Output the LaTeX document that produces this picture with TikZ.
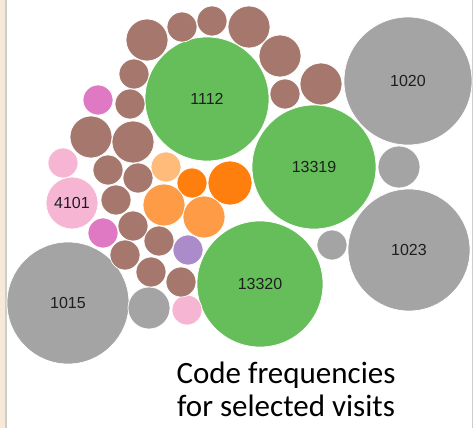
\documentclass[tikz,border=0pt]{standalone}
\usepackage{fontspec}
\setmainfont{Liberation Sans}
\newfontfamily\capfont{Carlito}
\usepackage{tikz,xcolor}
\usetikzlibrary{positioning}
\definecolor{ink}{HTML}{1E1E1E}
\definecolor{paper}{HTML}{F6E9D8}
\definecolor{frame}{HTML}{CDCDCD}
\definecolor{leaf}{HTML}{66BE5B}
\definecolor{stone}{HTML}{A4A4A4}
\definecolor{bark}{HTML}{A6776C}
\definecolor{blush}{HTML}{F6B5D3}
\definecolor{orchid}{HTML}{E079C4}
\definecolor{lilac}{HTML}{AB8BCA}
\definecolor{peach}{HTML}{FEBB7A}
\definecolor{amber}{HTML}{FD9B46}
\definecolor{flame}{HTML}{FF7F0E}

\begin{document}
\begin{tikzpicture}[x=1pt,y=-1pt,
  bubble/.style={circle,draw=white,line width=0.7pt,inner sep=0pt,text=ink,font=\fontsize{16}{16}\selectfont}]
\useasboundingbox (0,0) rectangle (475,428);
\fill[paper] (0,0) rectangle (5,428);
\draw[frame,line width=1.5pt] (6,0) -- (6,428);
\draw[frame,line width=1pt] (472.5,0) -- (472.5,428);
% labelled codes
\foreach \x/\y/\r/\c/\t in {207/99/62/leaf/1112,314/167/62/leaf/13319,260/284/63/leaf/13320,408/81/64/stone/1020,409/250/61/stone/1023,68/303/61/stone/1015,72/203/26/blush/4101}{
  \node[bubble,fill=\c,minimum size=2*\r] (code\t) at (\x,\y) {\t};
}
% unlabelled codes
\foreach \x/\y/\r/\c [count=\k] in {399/167/21/stone,332/245/15/stone,149/308/21/stone,187/310/15/blush,63/163/15/blush,98/100/15/orchid,103/233/15/orchid,188/250/15/lilac,166/167/15/peach,192/183/15/flame,230/183/22/flame,164/205/21/amber,204/217/21/amber}{
  \node[bubble,fill=\c,minimum size=2*\r] (dot\k) at (\x,\y) {};
}
\foreach \x/\y/\r [count=\k] in {147/40/21,182/27/15,212/21/15,249/27/21,280/56/21,285/94/15,321/84/21,134/74/15,130/104/15,91/137/21,133/142/21,108/170/15,138/178/15,116/200/15,133/226/15,159/241/15,125/255/15,151/272/15,181/282/15}{
  \node[bubble,fill=bark,minimum size=2*\r] (bark\k) at (\x,\y) {};
}
\node[anchor=base,font=\capfont\fontsize{31}{35}\selectfont,text=black] (caption1) at (286,383) {Code frequencies};
\node[anchor=base,font=\capfont\fontsize{31}{35}\selectfont,text=black] (caption2) at (286,417) {for selected visits};
\end{tikzpicture}
\end{document}
